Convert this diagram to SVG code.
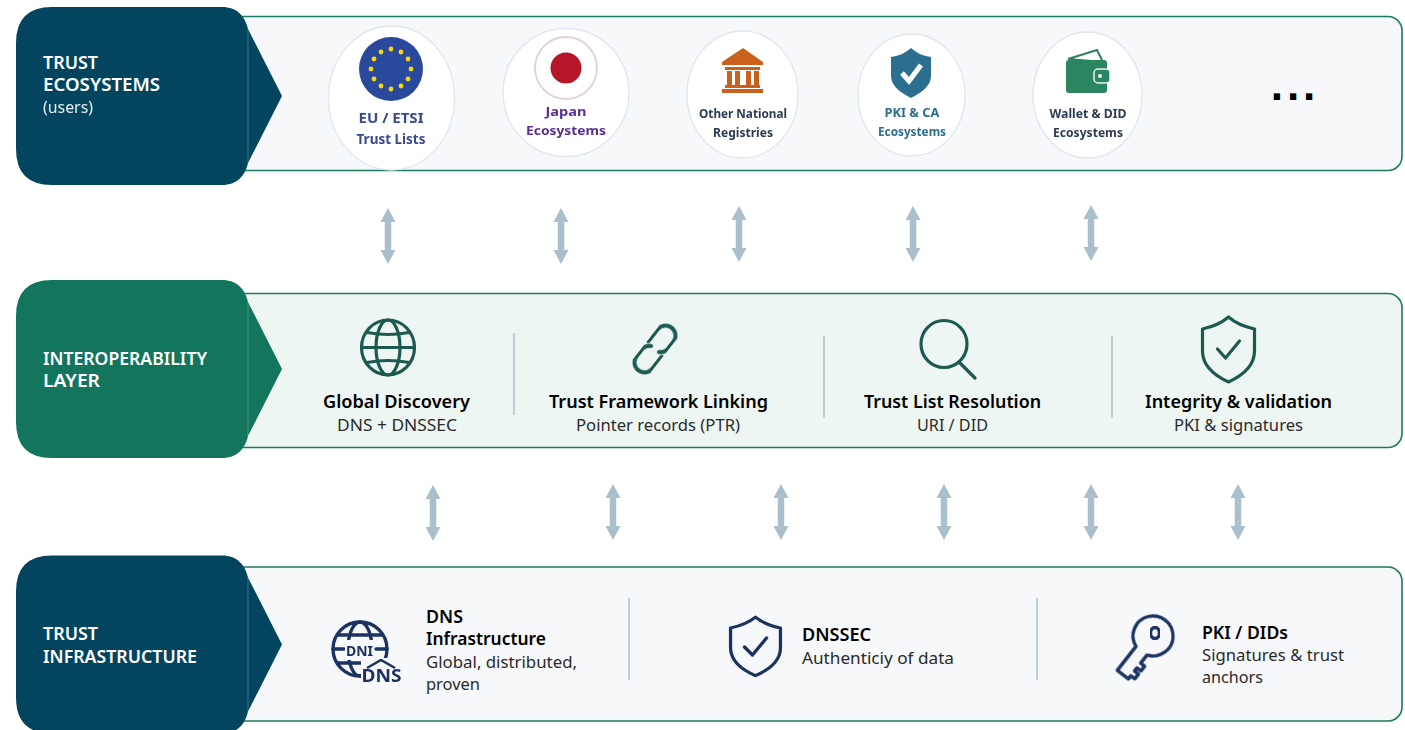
<svg xmlns="http://www.w3.org/2000/svg" width="1405" height="730" viewBox="0 0 1405 730">
<style>
text{font-family:"Noto Sans","Open Sans","Liberation Sans",sans-serif}
.panel{stroke:#1b7a60;stroke-width:1.6}
.navy{fill:#03455f}.green{fill:#13755b}
.seam{stroke:#fff;stroke-opacity:.22;stroke-width:1}
.tag{fill:#fff;font-size:17px;font-weight:600}
.tagl{fill:#fff;font-size:16px;font-weight:400;opacity:.9}
.h{fill:#000;font-size:17.5px;font-weight:600}
.s{fill:#2a2a2a;font-size:16.5px}
.c{text-anchor:middle}
.div{stroke:#b3c6d3;stroke-width:1.6}
.arrow{stroke:#a9bfcc;stroke-width:6.500;marker-start:url(#ah);marker-end:url(#ah)}
.bub{fill:#fff;stroke:#e2e6f0;stroke-width:1.400}
.bl{font-weight:700;text-anchor:middle}
.ic{fill:none;stroke:#1f5a50;stroke-width:3.200;stroke-linecap:round;stroke-linejoin:round}
.id{fill:none;stroke:#1d3360;stroke-width:3.400;stroke-linecap:round;stroke-linejoin:round}
.more{font-family:"Liberation Sans",sans-serif;font-size:44px;font-weight:700;letter-spacing:4px;text-anchor:middle}
.soft{filter:url(#soft)}
</style>
<defs>
<filter id="soft" x="-5%" y="-5%" width="110%" height="110%"><feGaussianBlur stdDeviation="0.5"/></filter>
<marker id="ah" markerUnits="userSpaceOnUse" markerWidth="16" markerHeight="16" refX="1" refY="8" orient="auto-start-reverse"><path d="M0,0.500V15.500L14,8Z" fill="#a9bfcc"/></marker>
<path id="tagshape" d="M36,0H206C221,0 229,9 232,22L266,89L232,156C229,169 221,178 206,178H36Q0,178 0,142V36Q0,0 36,0Z"/>
<path id="shield" d="M0,-32C8,-25 17,-22 26,-20V2C26,17 13,27 0,33C-13,27 -26,17 -26,2V-20C-17,-22 -8,-25 0,-32Z"/>
</defs>
<rect width="1405" height="730" fill="#fff"/>

<g id="panel-ecosystems"><rect class="panel" x="230" y="16.500" width="1172" height="154" rx="14" fill="#f6f8fa"/></g>
<g id="panel-interop"><rect class="panel" x="230" y="293.500" width="1172" height="154" rx="14" fill="#eef6f3"/></g>
<g id="panel-infra"><rect class="panel" x="230" y="567" width="1172" height="154" rx="14" fill="#f6f8fa"/></g>

<g id="tag-ecosystems"><use href="#tagshape" x="16" y="7" class="navy"/><line class="seam" x1="248" y1="28" x2="248" y2="164"/>
<text class="tag" x="43" y="69" textLength="55" lengthAdjust="spacingAndGlyphs">TRUST</text>
<text class="tag" x="43" y="91" textLength="117" lengthAdjust="spacingAndGlyphs">ECOSYSTEMS</text>
<text class="tagl" x="43" y="113" textLength="50" lengthAdjust="spacingAndGlyphs">(users)</text></g>
<g id="tag-interop"><use href="#tagshape" x="16" y="280" class="green"/><line class="seam" x1="248" y1="301" x2="248" y2="437"/>
<text class="tag" x="43" y="365" textLength="164" lengthAdjust="spacingAndGlyphs">INTEROPERABILITY</text>
<text class="tag" x="43" y="387" textLength="57" lengthAdjust="spacingAndGlyphs">LAYER</text></g>
<g id="tag-infra"><use href="#tagshape" x="16" y="555.500" class="navy"/><line class="seam" x1="248" y1="577" x2="248" y2="713"/>
<text class="tag" x="43" y="640" textLength="55" lengthAdjust="spacingAndGlyphs">TRUST</text>
<text class="tag" x="43" y="663" textLength="154" lengthAdjust="spacingAndGlyphs">INFRASTRUCTURE</text></g>

<g id="node-eu" class="soft"><ellipse class="bub" cx="391.500" cy="98" rx="63" ry="72"/>
<circle cx="391" cy="69" r="32" fill="#2c4a9c"/>
<g fill="#f5d90a"><circle cx="391" cy="49" r="2.400"/><circle cx="401" cy="52" r="2.400"/><circle cx="408" cy="59" r="2.400"/><circle cx="411" cy="69" r="2.400"/><circle cx="408" cy="79" r="2.400"/><circle cx="401" cy="86" r="2.400"/><circle cx="391" cy="89" r="2.400"/><circle cx="381" cy="86" r="2.400"/><circle cx="374" cy="79" r="2.400"/><circle cx="371" cy="69" r="2.400"/><circle cx="374" cy="59" r="2.400"/><circle cx="381" cy="52" r="2.400"/></g>
<text class="bl" x="391" y="123" font-size="14.500" fill="#3a4a8e" textLength="65" lengthAdjust="spacingAndGlyphs">EU / ETSI</text>
<text class="bl" x="391" y="144" font-size="14.500" fill="#3a4a8e" textLength="69" lengthAdjust="spacingAndGlyphs">Trust Lists</text></g>

<g id="node-japan" class="soft"><ellipse class="bub" cx="566" cy="92.500" rx="63" ry="64"/>
<circle cx="566" cy="68" r="31" fill="none" stroke="#e3cfdc" stroke-width="1.800"/><circle cx="566" cy="68" r="15.500" fill="#b5152b"/>
<text class="bl" x="566" y="116" font-size="13" fill="#5a2f93" textLength="41" lengthAdjust="spacingAndGlyphs">Japan</text>
<text class="bl" x="566" y="135" font-size="13" fill="#5a2f93" textLength="80" lengthAdjust="spacingAndGlyphs">Ecosystems</text></g>

<g id="node-national" class="soft"><ellipse class="bub" cx="742.500" cy="94.500" rx="55.500" ry="63.500"/>
<g fill="#c9601c"><path d="M743,48L763,62V65H722V62Z"/><rect x="725" y="67" width="35" height="3"/><rect x="727" y="71" width="5" height="14"/><rect x="735" y="71" width="5" height="14"/><rect x="746" y="71" width="5" height="14"/><rect x="754" y="71" width="5" height="14"/><rect x="725" y="85" width="35" height="3"/><rect x="722" y="89" width="41" height="4"/></g>
<text class="bl" x="743" y="118" font-size="13" fill="#2c3b52" textLength="88" lengthAdjust="spacingAndGlyphs">Other National</text>
<text class="bl" x="743" y="137" font-size="13" fill="#2c3b52" textLength="60" lengthAdjust="spacingAndGlyphs">Registries</text></g>

<g id="node-pki" class="soft"><ellipse class="bub" cx="911.500" cy="95" rx="53.500" ry="61"/>
<path d="M911,48C918,54 924,56 931,57V76C931,86 921,93 911,98C901,93 891,86 891,76V57C898,56 904,54 911,48Z" fill="#2c6f8e"/>
<path d="M902,73L909,81L921,65" fill="none" stroke="#fff" stroke-width="5"/>
<text class="bl" x="912" y="117" font-size="13" fill="#2c6f8e" textLength="55" lengthAdjust="spacingAndGlyphs">PKI &amp; CA</text>
<text class="bl" x="912" y="136" font-size="13" fill="#2c6f8e" textLength="68" lengthAdjust="spacingAndGlyphs">Ecosystems</text></g>

<g id="node-wallet" class="soft"><ellipse class="bub" cx="1087.500" cy="95" rx="54.500" ry="63"/>
<path d="M1068,59L1097,50L1103,62Z" fill="#fff" stroke="#2a8560" stroke-width="2"/>
<rect x="1066" y="60" width="41" height="33" rx="3" fill="#2a8560"/>
<rect x="1094" y="69" width="16" height="14" rx="4" fill="#2a8560" stroke="#e8f2ee" stroke-width="1.500"/><circle cx="1100" cy="76" r="2" fill="#e8f2ee"/>
<text class="bl" x="1088" y="118" font-size="13" fill="#2c3b52" textLength="77" lengthAdjust="spacingAndGlyphs">Wallet &amp; DID</text>
<text class="bl" x="1088" y="137" font-size="13" fill="#2c3b52" textLength="70" lengthAdjust="spacingAndGlyphs">Ecosystems</text></g>

<g id="node-more"><text class="more" x="1295" y="100" fill="#000">...</text></g>

<g id="node-discovery">
<g class="ic soft" transform="translate(388,347.500)"><ellipse rx="26.500" ry="27.500"/><ellipse rx="12" ry="27.500"/><path d="M-26,0H26M-21,-15Q0,-11 21,-15M-21,15Q0,11 21,15"/></g>
<text class="h c" x="396.500" y="408" textLength="147" lengthAdjust="spacingAndGlyphs">Global Discovery</text>
<text class="s c" x="397" y="431" textLength="120" lengthAdjust="spacingAndGlyphs">DNS + DNSSEC</text></g>
<g id="node-linking">
<g class="ic soft" transform="translate(655,349) rotate(-52)"><path style="stroke-width:4" d="M2,-10H17A10,10 0 0 1 17,10H7A10,10 0 0 1 0,5"/><path style="stroke-width:4" d="M-2,10H-17A10,10 0 0 1 -17,-10H-7A10,10 0 0 1 0,-5"/></g>
<text class="h c" x="658.500" y="408" textLength="219" lengthAdjust="spacingAndGlyphs">Trust Framework Linking</text>
<text class="s c" x="658" y="431" textLength="164" lengthAdjust="spacingAndGlyphs">Pointer records (PTR)</text></g>
<g id="node-resolution">
<g class="ic soft"><ellipse cx="944" cy="344" rx="23" ry="23.500"/><path d="M960,363L975,378"/></g>
<text class="h c" x="952.500" y="408" textLength="177" lengthAdjust="spacingAndGlyphs">Trust List Resolution</text>
<text class="s c" x="952.500" y="431" textLength="71" lengthAdjust="spacingAndGlyphs">URI / DID</text></g>
<g id="node-integrity">
<g class="ic soft" transform="translate(1228.500,349)"><use href="#shield"/><path d="M-11,0L-3,9L11,-8"/></g>
<text class="h c" x="1238.500" y="408" textLength="187" lengthAdjust="spacingAndGlyphs">Integrity &amp; validation</text>
<text class="s c" x="1238.500" y="431" textLength="129" lengthAdjust="spacingAndGlyphs">PKI &amp; signatures</text></g>

<g id="node-dns">
<g class="id soft" transform="translate(360,649)"><circle r="27"/><ellipse rx="12" ry="27"/><path d="M-27,0H-16M16,0H27M-22,-14H22M-22,14H2"/></g>
<rect x="345" y="640" width="29" height="20" fill="#f6f8fa"/><rect x="361" y="658" width="42" height="26" fill="#f6f8fa"/>
<text x="359.500" y="656" font-size="15" font-weight="700" fill="#1d3360" class="c soft" textLength="27" lengthAdjust="spacingAndGlyphs">DNI</text>
<path class="soft" d="M367,668L381,660L395,668" fill="none" stroke="#1d3360" stroke-width="2.500"/>
<text x="381.500" y="682" font-size="17" font-weight="700" fill="#1d3360" class="c soft" textLength="40" lengthAdjust="spacingAndGlyphs">DNS</text>
<text class="h" x="426" y="623" textLength="37" lengthAdjust="spacingAndGlyphs">DNS</text>
<text class="h" x="426" y="645" textLength="120" lengthAdjust="spacingAndGlyphs">Infrastructure</text>
<text class="s" x="426" y="668" textLength="151" lengthAdjust="spacingAndGlyphs">Global, distributed,</text>
<text class="s" x="426" y="690" textLength="54" lengthAdjust="spacingAndGlyphs">proven</text></g>
<g id="node-dnssec">
<g class="id soft" transform="translate(755.500,646)"><use href="#shield" transform="scale(.96,.9)"/><path d="M-11,1L-3,9L11,-8"/></g>
<text class="h" x="802" y="641" textLength="69" lengthAdjust="spacingAndGlyphs">DNSSEC</text>
<text class="s" x="802" y="664" textLength="152" lengthAdjust="spacingAndGlyphs">Authenticiy of data</text></g>
<g id="node-pki-dids">
<g class="id soft" transform="translate(1153,636) rotate(128)"><path d="M18.700,-7A20,20 0 1 0 18.700,7H49V-7H45L45,-12H39V-7H35V-12H29V-7Z"/></g>
<ellipse class="id soft" cx="1155" cy="633" rx="4.500" ry="5.500"/>
<text class="h" x="1202" y="639" textLength="86" lengthAdjust="spacingAndGlyphs">PKI / DIDs</text>
<text class="s" x="1202" y="661" textLength="142" lengthAdjust="spacingAndGlyphs">Signatures &amp; trust</text>
<text class="s" x="1202" y="683" textLength="61" lengthAdjust="spacingAndGlyphs">anchors</text></g>

<g id="dividers">
<line class="div" x1="514" y1="333" x2="514" y2="415"/><line class="div" x1="824" y1="336" x2="824" y2="418"/><line class="div" x1="1112" y1="336" x2="1112" y2="418"/>
<line class="div" x1="629" y1="598" x2="629" y2="680"/><line class="div" x1="1037" y1="598" x2="1037" y2="680"/>
</g>

<g id="connectors">
<line class="arrow" x1="388" y1="221" x2="388" y2="251"/><line class="arrow" x1="561" y1="221" x2="561" y2="251"/><line class="arrow" x1="739" y1="219" x2="739" y2="249"/><line class="arrow" x1="913" y1="219" x2="913" y2="249"/><line class="arrow" x1="1091" y1="218" x2="1091" y2="248"/>
<line class="arrow" x1="433" y1="498" x2="433" y2="528"/><line class="arrow" x1="613" y1="497" x2="613" y2="527"/><line class="arrow" x1="781" y1="497" x2="781" y2="527"/><line class="arrow" x1="944" y1="497" x2="944" y2="527"/><line class="arrow" x1="1091" y1="497" x2="1091" y2="527"/><line class="arrow" x1="1238" y1="497" x2="1238" y2="527"/>
</g>
</svg>
